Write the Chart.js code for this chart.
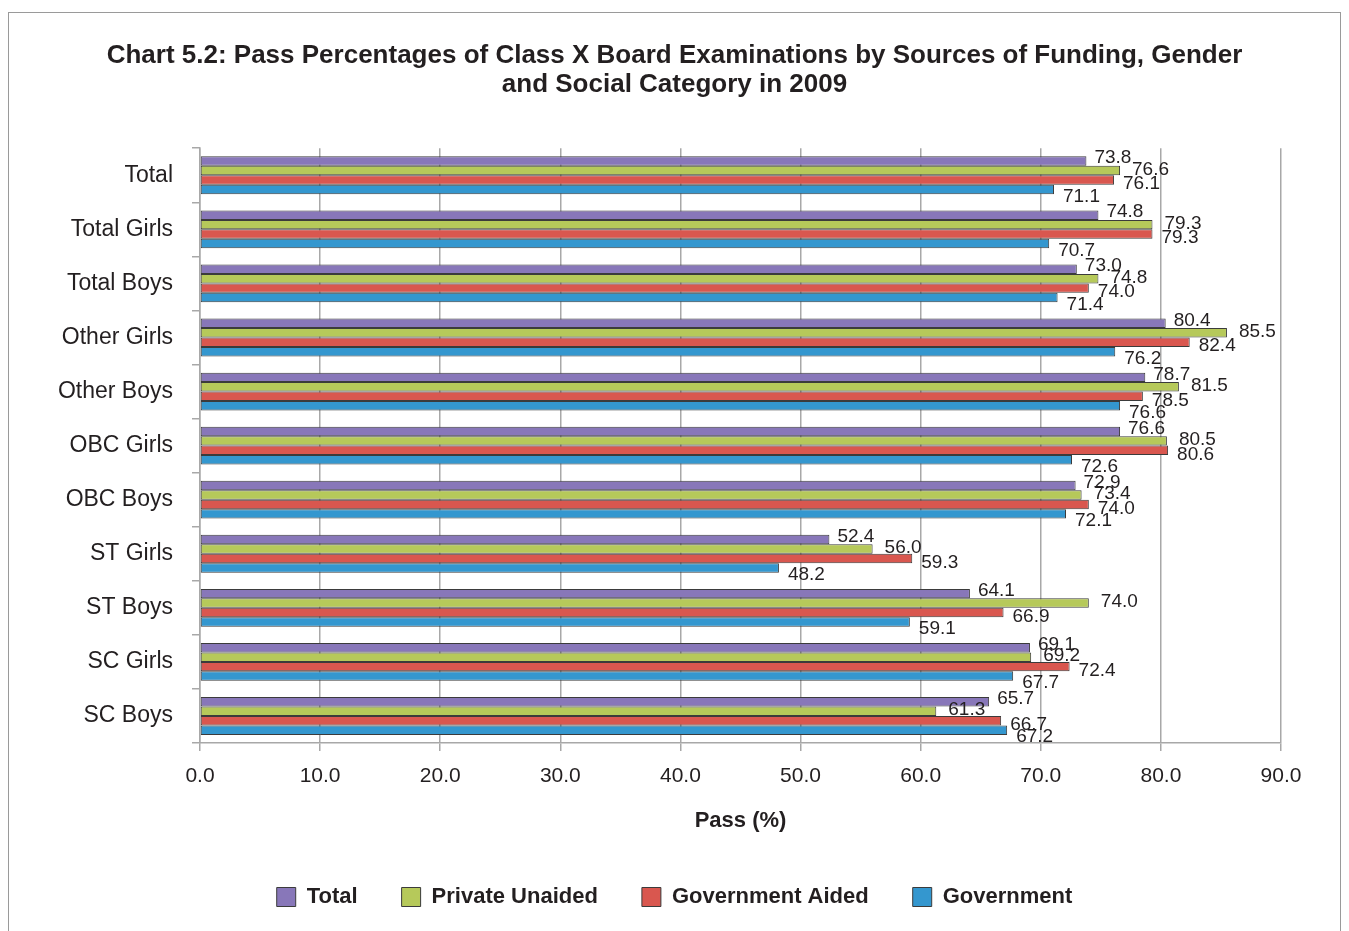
<!DOCTYPE html>
<html lang="en">
  <head>
    <meta charset="utf-8">
    <title>Chart 5.2: Pass Percentages of Class X Board Examinations</title>
    <script src="https://cdn.jsdelivr.net/npm/chart.js"></script>
    <style>
      body { margin: 0; background: #fff; }
      #frame { position: absolute; left: 8px; top: 12px; width: 1331px; height: 940px; border: 1px solid #9a9a9a; }
      #wrap { position: absolute; left: 0; top: 0; width: 1349px; height: 931px; }
    </style>
  </head>
  <body>
    <div id="frame"></div>
    <div id="wrap"><canvas id="myChart"></canvas></div>

  <script>
    // categories, top to bottom
    var categories = ['Total', 'Total Girls', 'Total Boys', 'Other Girls', 'Other Boys', 'OBC Girls',
                      'OBC Boys', 'ST Girls', 'ST Boys', 'SC Girls', 'SC Boys'];
    var total          = [73.8, 74.8, 73.0, 80.4, 78.7, 76.6, 72.9, 52.4, 64.1, 69.1, 65.7];
    var privateUnaided = [76.6, 79.3, 74.8, 85.5, 81.5, 80.5, 73.4, 56.0, 74.0, 69.2, 61.3];
    var govtAided      = [76.1, 79.3, 74.0, 82.4, 78.5, 80.6, 74.0, 59.3, 66.9, 72.4, 66.7];
    var government     = [71.1, 70.7, 71.4, 76.2, 76.6, 72.6, 72.1, 48.2, 59.1, 67.7, 67.2];
    var xTicks = [0, 10, 20, 30, 40, 50, 60, 70, 80, 90];

    var FONT = "'Liberation Sans', Arial, sans-serif";
    var TEXT = '#231f20';

    // label offsets per series (the original labels sit a bit staggered)
    var labelDx = [8, 12, 9, 9];
    var labelDy = [-3, -1, 4, 7];

    const valueLabels = {
        id: 'valueLabels',
        afterDatasetsDraw(chart) {
            const ctx = chart.ctx;
            ctx.save();
            ctx.font = '19px ' + FONT;
            ctx.fillStyle = TEXT;
            ctx.textAlign = 'left';
            ctx.textBaseline = 'middle';
            chart.data.datasets.forEach(function(ds, i) {
                chart.getDatasetMeta(i).data.forEach(function(bar, j) {
                    ctx.fillText(ds.data[j].toFixed(1), bar.x + labelDx[i], bar.y + labelDy[i]);
                });
            });
            ctx.restore();
        }
    };

    function series(label, data, color) {
        return {
            label: label,
            data: data,
            backgroundColor: color,
            borderColor: '#3b3b3b',
            borderWidth: 1,
            borderSkipped: false,
            barPercentage: 1.0,
            categoryPercentage: 0.7
        };
    }

    const ctx = document.getElementById('myChart').getContext('2d');
    const myChart = new Chart(ctx, {
        type: 'bar',
        data: {
            labels: categories,
            datasets: [
                series('Total', total, '#8877b9'),
                series('Private Unaided', privateUnaided, '#b6c95a'),
                series('Government Aided', govtAided, '#d9574f'),
                series('Government', government, '#3497cf')
            ]
        },
        plugins: [valueLabels],
        options: {
            indexAxis: 'y',
            responsive: true,
            maintainAspectRatio: false,
            animation: false,
            layout: { padding: { left: 0, right: 0, top: 0, bottom: 13 } },
            plugins: {
                title: {
                    display: true,
                    text: ['Chart 5.2: Pass Percentages of Class X Board Examinations by Sources of Funding, Gender',
                           'and Social Category in 2009'],
                    color: TEXT,
                    font: { family: FONT, size: 26, weight: 'bold', lineHeight: 1.12 },
                    padding: { top: 41.5, bottom: 48.5 }
                },
                legend: {
                    position: 'bottom',
                    labels: {
                        color: TEXT,
                        font: { family: FONT, size: 22, weight: 'bold' },
                        boxWidth: 19,
                        boxHeight: 19,
                        padding: 44
                    }
                },
                tooltip: { enabled: false }
            },
            scales: {
                x: {
                    min: 0,
                    max: 90,
                    afterBuildTicks: function(scale) {
                        scale.ticks = xTicks.map(function(v) { return { value: v }; });
                    },
                    ticks: {
                        color: TEXT,
                        font: { family: FONT, size: 21 },
                        padding: 13,
                        callback: function(v) { return Number(v).toFixed(1); }
                    },
                    grid: { color: '#a8a8a8', lineWidth: 1.5, tickLength: 8, tickColor: '#a8a8a8' },
                    border: { color: '#a8a8a8', width: 1.5 },
                    title: {
                        display: true,
                        text: 'Pass (%)',
                        color: TEXT,
                        font: { family: FONT, size: 22, weight: 'bold' },
                        padding: { top: 5.6, bottom: 7.8 }
                    }
                },
                y: {
                    afterFit: function(scale) { scale.width = 200; },
                    ticks: {
                        color: TEXT,
                        font: { family: FONT, size: 23 },
                        padding: 19
                    },
                    grid: { drawOnChartArea: false, tickLength: 8, color: '#a8a8a8', lineWidth: 1.5 },
                    border: { color: '#a8a8a8', width: 1.5 }
                },
                // empty right-hand margin so the title and legend centre on the whole page
                yRight: {
                    type: 'category',
                    position: 'right',
                    display: true,
                    afterFit: function(scale) { scale.width = 68; },
                    ticks: { display: false },
                    grid: { display: false },
                    border: { display: false }
                }
            }
        }
    });
  </script>
  </body>
</html>
